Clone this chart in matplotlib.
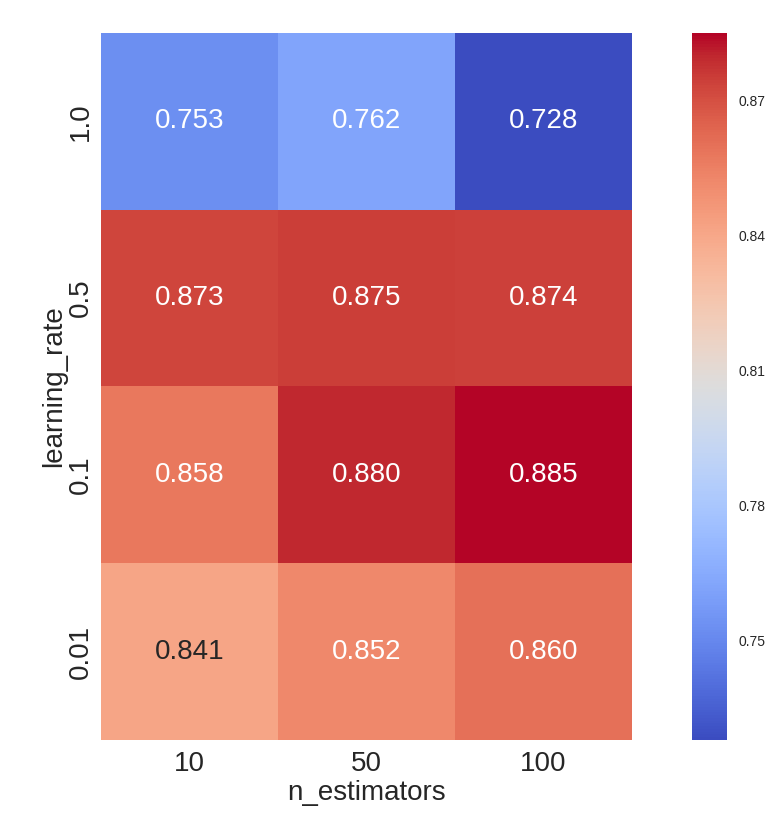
import matplotlib
matplotlib.use("Agg")
import matplotlib.pyplot as plt
import numpy as np
import pandas as pd
import seaborn as sns

n_estimators = [10, 50, 100]
learning_rates = ["1.0", "0.5", "0.1", "0.01"]
scores = [
    [0.753, 0.762, 0.728],
    [0.873, 0.875, 0.874],
    [0.858, 0.880, 0.885],
    [0.841, 0.852, 0.860],
]
cbar_ticks = [0.75, 0.78, 0.81, 0.84, 0.87]

sns.set_style("white")
plt.rcParams["font.family"] = ["Liberation Sans", "DejaVu Sans"]
plt.rcParams["text.color"] = "#262626"
plt.rcParams["axes.labelcolor"] = "#262626"
plt.rcParams["xtick.color"] = "#262626"
plt.rcParams["ytick.color"] = "#262626"

df = pd.DataFrame(scores, index=learning_rates, columns=n_estimators)

fig = plt.figure(figsize=(7.69, 8.13), dpi=100)
ax = fig.add_axes([101 / 769, 1 - 740 / 813, 531 / 769, 707 / 813])
cax = fig.add_axes([692 / 769, 1 - 740 / 813, 35 / 769, 707 / 813])

sns.heatmap(df, ax=ax, cbar_ax=cax, cmap="coolwarm", annot=True, fmt=".3f",
            annot_kws={"size": 20})

ax.set_xlabel("n_estimators", fontsize=20, labelpad=2)
ax.set_ylabel("learning_rate", fontsize=20, labelpad=1)
ax.tick_params(axis="x", labelsize=20, length=0, pad=8)
ax.tick_params(axis="y", labelsize=20, length=0, pad=5)
ax.set_yticklabels(learning_rates, rotation=90, va="center")

cax.set_yticks(cbar_ticks)
cax.set_yticklabels([f"{t:.2f}" for t in cbar_ticks])
cax.tick_params(labelsize=10, length=0, pad=8)
for s in cax.spines.values():
    s.set_visible(False)

fig.savefig("out.png", dpi=100)
